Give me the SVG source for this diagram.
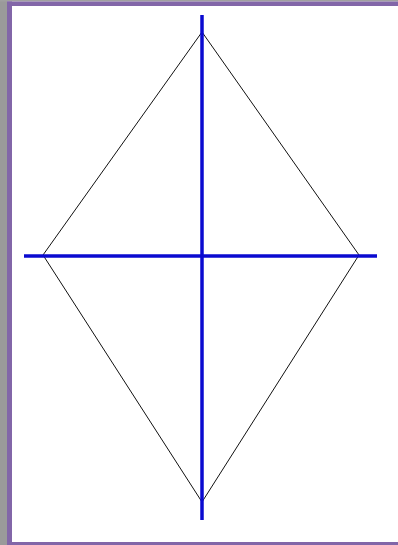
<svg xmlns="http://www.w3.org/2000/svg" width="398" height="545" viewBox="0 0 398 545">
<style>
.frame{fill:#8266a8}
.edge{fill:none;stroke:#111;stroke-width:1}
.axis{stroke:#0a0ad0;stroke-width:3.5;stroke-linecap:butt}
</style>
<rect x="0" y="0" width="398" height="545" fill="#ffffff"/>
<rect x="0" y="0" width="7" height="545" fill="#9a9a9a"/>
<rect x="0" y="0" width="398" height="1.5" fill="#a0a0a0"/>
<rect class="frame" x="7" y="1.5" width="391" height="4.5"/>
<rect class="frame" x="7" y="1.5" width="5" height="543.5"/>
<rect class="frame" x="7" y="542" width="391" height="3"/>
<g id="diamond">
<polygon class="edge" points="202,32 359,255 202,502 43,255"/>
</g>
<g id="connectors">
<line class="axis" x1="202" y1="15" x2="202" y2="520"/>
<line class="axis" x1="24" y1="256" x2="377" y2="256"/>
</g>
</svg>
